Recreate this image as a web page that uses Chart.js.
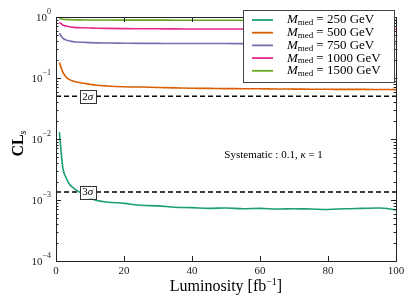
<!DOCTYPE html>
<html>
<head>
<meta charset="utf-8">
<script src="https://cdn.jsdelivr.net/npm/chart.js@4/dist/chart.umd.min.js"></script>
<style>
  body { margin: 0; background: #fff; }
  .chart-container { width: 415px; height: 306px; }
</style>
</head>
<body>
<div class="chart-container"><canvas id="cls"></canvas></div>
<script>
// luminosity points (fb^-1)
const lumi = [1, 2, 3, 4, 5, 6, 8, 10, 12, 15, 20, 25, 30, 35, 40, 45, 50, 55, 60, 65, 70, 75, 80, 85, 90, 95, 100];

const masses = [250, 500, 750, 1000, 1500];
const colors = ['#1b9e77', '#d95f02', '#7570b3', '#e7298a', '#66a61e'];

const cls250 = [0.0130, 0.0034, 0.0023, 0.0018, 0.0016, 0.00145, 0.00125, 0.00108, 0.00098, 0.00093, 0.00088, 0.00082, 0.00080, 0.00076, 0.00075, 0.00073, 0.00074, 0.00072, 0.00073, 0.00071, 0.00072, 0.00071, 0.00070, 0.00072, 0.00073, 0.00074, 0.00069];
const cls500 = [0.18, 0.125, 0.103, 0.094, 0.089, 0.086, 0.082, 0.079, 0.076, 0.074, 0.072, 0.071, 0.070, 0.069, 0.068, 0.0675, 0.067, 0.0668, 0.0665, 0.066, 0.0658, 0.0655, 0.0653, 0.065, 0.065, 0.0648, 0.0645];
const cls750 = [0.54, 0.45, 0.42, 0.405, 0.395, 0.39, 0.385, 0.38, 0.377, 0.374, 0.372, 0.370, 0.369, 0.368, 0.368, 0.367, 0.367, 0.366, 0.366, 0.366, 0.365, 0.365, 0.365, 0.365, 0.364, 0.364, 0.364];
const cls1000 = [0.82, 0.74, 0.71, 0.69, 0.68, 0.67, 0.665, 0.66, 0.655, 0.65, 0.645, 0.642, 0.64, 0.638, 0.637, 0.636, 0.635, 0.634, 0.633, 0.633, 0.632, 0.632, 0.631, 0.631, 0.63, 0.63, 0.63];
const cls1500 = [0.95, 0.92, 0.91, 0.905, 0.90, 0.897, 0.895, 0.893, 0.892, 0.891, 0.89, 0.889, 0.888, 0.887, 0.886, 0.885, 0.885, 0.884, 0.884, 0.883, 0.883, 0.882, 0.882, 0.881, 0.881, 0.88, 0.88];
const allCls = [cls250, cls500, cls750, cls1000, cls1500];

// significance thresholds
const sigmaLabels = ['2', '3'];
const sigmaLevels = [0.05, 0.00135];
const sigmaLabelX = 9.5;

const xTicks = [0, 20, 40, 60, 80, 100];
const yDecades = [-4, -3, -2, -1, 0];

const SERIF = '"Liberation Serif", "DejaVu Serif", serif';

const datasets = allCls.map((vals, i) => ({
  label: 'M_med = ' + masses[i] + ' GeV',
  data: vals.map((v, j) => ({ x: lumi[j], y: v })),
  borderColor: colors[i],
  backgroundColor: colors[i],
  borderWidth: 1.6,
  pointRadius: 0,
  cubicInterpolationMode: 'monotone',
}));
sigmaLevels.forEach(lv => {
  datasets.push({
    label: '',
    data: [{ x: 0, y: lv }, { x: 100, y: lv }],
    borderColor: '#000',
    borderWidth: 1.5,
    borderDash: [5, 3],
    pointRadius: 0,
  });
});

function drawMassText(ctx, x, y, mass) {
  ctx.textBaseline = 'middle';
  ctx.textAlign = 'left';
  ctx.fillStyle = '#000';
  ctx.font = 'italic 13px ' + SERIF;
  ctx.fillText('M', x, y);
  x += ctx.measureText('M').width;
  ctx.font = '9px ' + SERIF;
  ctx.fillText('med', x, y + 3);
  x += ctx.measureText('med').width + 3;
  ctx.font = '13px ' + SERIF;
  ctx.fillText('= ' + mass + ' GeV', x, y);
}

const decorations = {
  id: 'decorations',
  afterDatasetsDraw(chart) {
    const { ctx, chartArea: a, scales } = chart;
    const xs = scales.x, ys = scales.y;
    ctx.save();
    // frame
    ctx.strokeStyle = '#222';
    ctx.lineWidth = 1;
    ctx.strokeRect(a.left + 0.5, a.top + 0.5, a.right - a.left, a.bottom - a.top);
    // inward ticks, x
    ctx.beginPath();
    xTicks.forEach(t => {
      const px = Math.round(xs.getPixelForValue(t)) + 0.5;
      ctx.moveTo(px, a.bottom); ctx.lineTo(px, a.bottom - 5);
      ctx.moveTo(px, a.top); ctx.lineTo(px, a.top + 5);
    });
    // inward ticks, y (major + minor)
    yDecades.forEach(d => {
      for (let m = 1; m <= 9; m++) {
        const v = m * Math.pow(10, d);
        if (v > 1.0001) break;
        const py = Math.round(ys.getPixelForValue(v)) + 0.5;
        const len = m === 1 ? 5 : 2.5;
        ctx.moveTo(a.left, py); ctx.lineTo(a.left + len, py);
        ctx.moveTo(a.right, py); ctx.lineTo(a.right - len, py);
      }
    });
    ctx.stroke();

    // y tick labels 10^k
    ctx.fillStyle = '#222';
    yDecades.forEach(d => {
      const py = ys.getPixelForValue(Math.pow(10, d));
      const exp = d < 0 ? '\u2212' + (-d) : String(d);
      ctx.font = '8px ' + SERIF;
      const ew = ctx.measureText(exp).width;
      ctx.textBaseline = 'middle';
      ctx.textAlign = 'left';
      ctx.fillText(exp, a.left - 5 - ew, py - 5);
      ctx.font = '11px ' + SERIF;
      ctx.textAlign = 'right';
      ctx.fillText('10', a.left - 5 - ew, py + 1);
    });

    // axis titles
    ctx.fillStyle = '#000';
    ctx.textAlign = 'center';
    ctx.textBaseline = 'middle';
    ctx.font = '16px ' + SERIF;
    const cx = (a.left + a.right) / 2;
    const lw = ctx.measureText('Luminosity [fb').width;
    ctx.font = '10px ' + SERIF;
    const sw = ctx.measureText('\u22121').width;
    ctx.font = '16px ' + SERIF;
    const rw = ctx.measureText(']').width;
    let sx = cx - (lw + sw + rw) / 2;
    ctx.textAlign = 'left';
    ctx.fillText('Luminosity [fb', sx, 287);
    ctx.font = '10px ' + SERIF;
    ctx.fillText('\u22121', sx + lw, 282);
    ctx.font = '16px ' + SERIF;
    ctx.fillText(']', sx + lw + sw, 287);

    ctx.save();
    ctx.translate(19, (a.top + a.bottom) / 2 + 4);
    ctx.rotate(-Math.PI / 2);
    ctx.font = 'bold 16px ' + SERIF;
    const cw = ctx.measureText('CL').width;
    ctx.textAlign = 'left';
    ctx.fillText('CL', -(cw + 5) / 2, 0);
    ctx.font = 'italic 10px ' + SERIF;
    ctx.fillText('s', -(cw + 5) / 2 + cw, 4);
    ctx.restore();

    // sigma boxes
    sigmaLevels.forEach((lv, i) => {
      const px = xs.getPixelForValue(sigmaLabelX);
      const py = ys.getPixelForValue(lv);
      ctx.fillStyle = '#fff';
      ctx.fillRect(px - 8, py - 6.5, 16, 13);
      ctx.strokeStyle = '#333';
      ctx.lineWidth = 1;
      ctx.strokeRect(Math.round(px - 8) + 0.5, Math.round(py - 6.5) + 0.5, 16, 13);
      ctx.fillStyle = '#000';
      ctx.textBaseline = 'middle';
      ctx.textAlign = 'left';
      ctx.font = '11px ' + SERIF;
      const nw = ctx.measureText(sigmaLabels[i]).width;
      ctx.fillText(sigmaLabels[i], px - 6, py + 0.5);
      ctx.font = 'italic 11px ' + SERIF;
      ctx.fillText('\u03c3', px - 6 + nw, py + 0.5);
    });

    // systematic note
    ctx.fillStyle = '#000';
    ctx.textBaseline = 'middle';
    ctx.textAlign = 'left';
    let tx = xs.getPixelForValue(49.5);
    const ty = ys.getPixelForValue(0.0055);
    const parts = [['Systematic : 0.1, ', ''], ['\u03ba', 'italic '], [' = 1', '']];
    parts.forEach(([s, st]) => {
      ctx.font = st + '11px ' + SERIF;
      ctx.fillText(s, tx, ty);
      tx += ctx.measureText(s).width;
    });
    ctx.restore();
  },
  afterDraw(chart) {
    const { ctx } = chart;
    ctx.save();
    const bx = 243.5, by = 10.5, bw = 151, bh = 72;
    ctx.fillStyle = '#fff';
    ctx.fillRect(bx, by, bw, bh);
    ctx.strokeStyle = '#444';
    ctx.lineWidth = 1;
    ctx.strokeRect(bx, by, bw, bh);
    masses.forEach((m, i) => {
      const y = 20 + i * 12.7;
      ctx.strokeStyle = colors[i];
      ctx.lineWidth = 1.8;
      ctx.beginPath();
      ctx.moveTo(252, y); ctx.lineTo(273, y);
      ctx.stroke();
      drawMassText(ctx, 287, y, m);
    });
    ctx.restore();
  }
};

new Chart(document.getElementById('cls'), {
  type: 'line',
  data: { datasets },
  options: {
    responsive: true,
    maintainAspectRatio: false,
    animation: false,
    layout: { padding: { top: 17, right: 19, left: 0, bottom: 0 } },
    plugins: { legend: { display: false }, tooltip: { enabled: false } },
    scales: {
      x: {
        type: 'linear',
        min: 0, max: 100,
        grid: { display: false, drawTicks: false },
        border: { display: false },
        ticks: {
          stepSize: 20, padding: 4, color: '#222',
          font: { family: SERIF, size: 11 },
          maxRotation: 0,
        },
        afterFit(scale) { scale.height = 45; },
      },
      y: {
        type: 'logarithmic',
        min: 1e-4, max: 1,
        grid: { display: false, drawTicks: false },
        border: { display: false },
        ticks: { display: false },
        afterFit(scale) { scale.width = 56; },
      },
    },
  },
  plugins: [decorations],
});
</script>
</body>
</html>
